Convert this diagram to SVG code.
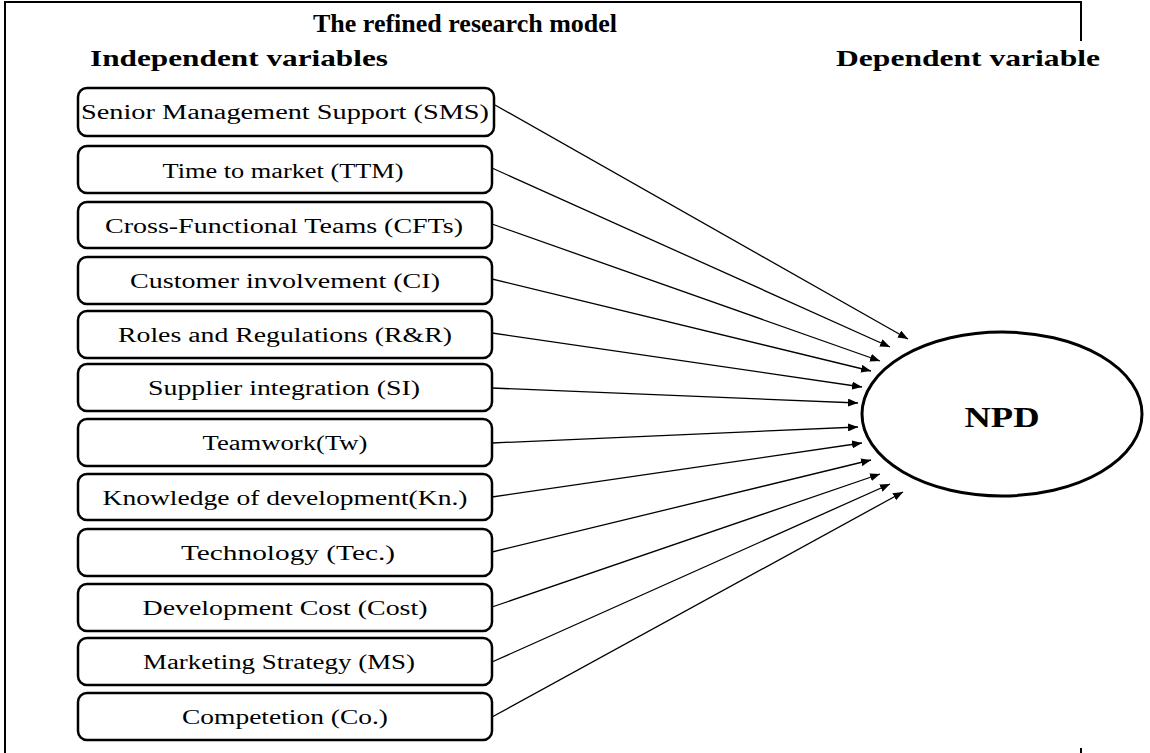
<svg xmlns="http://www.w3.org/2000/svg" width="1150" height="753" viewBox="0 0 1150 753">
<style>
.frame{fill:none;stroke:#000;stroke-width:2}
.box{fill:#fff;stroke:#000;stroke-width:2.5}
.lbl{font-family:"Liberation Serif","Times New Roman",serif;font-size:20px;fill:#000;text-anchor:middle}
.hd{font-family:"Liberation Serif","Times New Roman",serif;font-weight:bold;fill:#000}
.conn line{stroke:#000;stroke-width:1.3;marker-end:url(#ah)}
</style>
<defs>
<marker id="ah" viewBox="0 0 10 8" refX="10" refY="4" markerWidth="10" markerHeight="8" markerUnits="userSpaceOnUse" orient="auto">
<path d="M0,0 L10,4 L0,8 Z" fill="#000"/>
</marker>
</defs>
<rect width="1150" height="753" fill="#fff"/>
<path class="frame" d="M5,753 V2 H1081 V41"/>
<line x1="1081" y1="748" x2="1081" y2="753" stroke="#000" stroke-width="2"/>
<text class="hd" x="313" y="32" font-size="26">The refined research model</text>
<text class="hd" x="90" y="66" font-size="23" textLength="298" lengthAdjust="spacingAndGlyphs">Independent variables</text>
<text class="hd" x="836" y="66" font-size="23" textLength="264" lengthAdjust="spacingAndGlyphs">Dependent variable</text>

<g id="n1"><rect class="box" x="78" y="88" width="416" height="48" rx="9"/><text class="lbl" x="285" y="119" textLength="408" lengthAdjust="spacingAndGlyphs">Senior Management Support (SMS)</text></g>
<g id="n2"><rect class="box" x="78" y="146" width="414" height="47" rx="9"/><text class="lbl" x="283" y="178" textLength="241" lengthAdjust="spacingAndGlyphs">Time to market (TTM)</text></g>
<g id="n3"><rect class="box" x="78" y="202" width="414" height="46" rx="9"/><text class="lbl" x="284" y="233" textLength="358" lengthAdjust="spacingAndGlyphs">Cross-Functional Teams (CFTs)</text></g>
<g id="n4"><rect class="box" x="78" y="257" width="414" height="47" rx="9"/><text class="lbl" x="285" y="288" textLength="310" lengthAdjust="spacingAndGlyphs">Customer involvement (CI)</text></g>
<g id="n5"><rect class="box" x="78" y="311" width="414" height="47" rx="9"/><text class="lbl" x="285" y="342" textLength="334" lengthAdjust="spacingAndGlyphs">Roles and Regulations (R&amp;R)</text></g>
<g id="n6"><rect class="box" x="78" y="364" width="414" height="47" rx="9"/><text class="lbl" x="284" y="395" textLength="272" lengthAdjust="spacingAndGlyphs">Supplier integration (SI)</text></g>
<g id="n7"><rect class="box" x="78" y="419" width="414" height="47" rx="9"/><text class="lbl" x="285" y="450" textLength="165" lengthAdjust="spacingAndGlyphs">Teamwork(Tw)</text></g>
<g id="n8"><rect class="box" x="78" y="474" width="414" height="46" rx="9"/><text class="lbl" x="285" y="505" textLength="365" lengthAdjust="spacingAndGlyphs">Knowledge of development(Kn.)</text></g>
<g id="n9"><rect class="box" x="78" y="529" width="414" height="47" rx="9"/><text class="lbl" x="288" y="560" textLength="214" lengthAdjust="spacingAndGlyphs">Technology (Tec.)</text></g>
<g id="n10"><rect class="box" x="78" y="584" width="414" height="47" rx="9"/><text class="lbl" x="285" y="615" textLength="285" lengthAdjust="spacingAndGlyphs">Development Cost (Cost)</text></g>
<g id="n11"><rect class="box" x="78" y="638" width="414" height="47" rx="9"/><text class="lbl" x="279" y="669" textLength="272" lengthAdjust="spacingAndGlyphs">Marketing Strategy (MS)</text></g>
<g id="n12"><rect class="box" x="78" y="693" width="414" height="47" rx="9"/><text class="lbl" x="285" y="724" textLength="206" lengthAdjust="spacingAndGlyphs">Competetion (Co.)</text></g>

<g id="npd"><ellipse cx="1002" cy="414" rx="140" ry="82" fill="#fff" stroke="#000" stroke-width="3"/><text class="hd" x="1002" y="427" font-size="30" text-anchor="middle" textLength="75" lengthAdjust="spacingAndGlyphs">NPD</text></g>

<g class="conn">
<line x1="495" y1="105" x2="908" y2="339"/>
<line x1="492" y1="168" x2="890" y2="347"/>
<line x1="492" y1="224" x2="880" y2="361"/>
<line x1="492" y1="279" x2="871" y2="371"/>
<line x1="492" y1="333" x2="862" y2="387"/>
<line x1="492" y1="388" x2="858" y2="403"/>
<line x1="492" y1="443" x2="858" y2="427"/>
<line x1="492" y1="497" x2="862" y2="443"/>
<line x1="492" y1="552" x2="871" y2="460"/>
<line x1="492" y1="607" x2="880" y2="474"/>
<line x1="492" y1="662" x2="890" y2="484"/>
<line x1="492" y1="717" x2="903" y2="492"/>
</g>
</svg>
